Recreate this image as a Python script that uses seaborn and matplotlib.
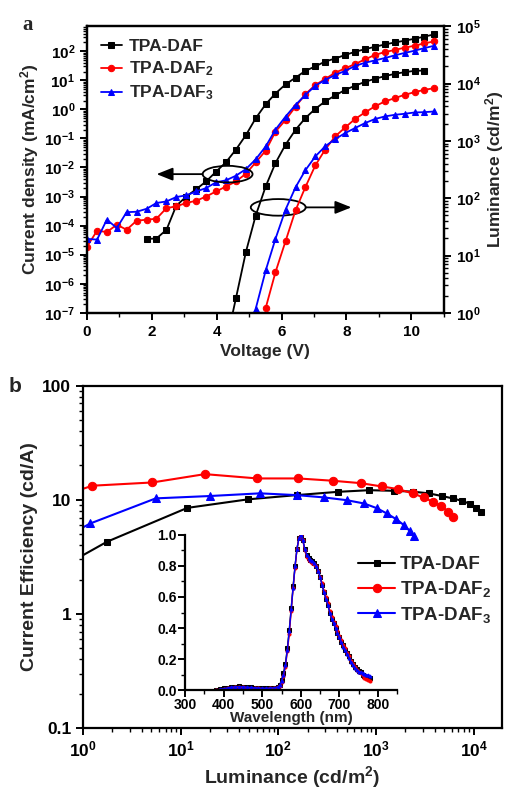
import seaborn as sns
import matplotlib
matplotlib.use('Agg')
import matplotlib.pyplot as plt
import matplotlib.ticker as mticker
from matplotlib.patches import Ellipse

# ---- panel a: J-V-L ----
# voltage grid of the measurement (V)
voltage = [0.00, 0.31, 0.61, 0.92, 1.22, 1.53, 1.84, 2.14, 2.45, 2.75, 3.06, 3.37,
           3.67, 3.98, 4.28, 4.59, 4.90, 5.20, 5.51, 5.81, 6.12, 6.43, 6.73, 7.04,
           7.34, 7.65, 7.96, 8.26, 8.57, 8.87, 9.18, 9.49, 9.79, 10.10, 10.40, 10.71]

# current density (mA/cm2)
j_daf = [3.5e-5, 3.6e-5, 7.2e-5, 4.8e-4, 1.0e-3, 1.8e-3, 3.3e-3, 7.2e-3, 1.5e-2, 4.1e-2,
         0.13, 0.49, 1.5, 3.5, 7.2, 12.3, 21, 30, 44, 56, 74, 95, 117, 141, 170, 200,
         229, 269, 316, 380]
j_daf2 = [1.9e-5, 6.7e-5, 6.0e-5, 1.08e-4, 7.2e-5, 1.48e-4, 1.6e-4, 1.73e-4, 4.0e-4, 4.6e-4,
          6.0e-4, 7.2e-4, 1.0e-3, 1.5e-3, 2.2e-3, 3.3e-3, 6.1e-3, 1.49e-2, 3.8e-2, 0.17,
          0.43, 1.24, 3.3, 6.9, 11.0, 18.2, 25.7, 36, 52, 74, 93, 110, 132, 154, 186, 218]
j_daf3 = [3.5e-5, 3.3e-5, 1.6e-4, 8.3e-5, 2.9e-4, 3.0e-4, 3.8e-4, 6.0e-4, 6.8e-4, 9.6e-4,
          1.1e-3, 1.5e-3, 1.95e-3, 3.1e-3, 3.6e-3, 5.2e-3, 8.8e-3, 1.9e-2, 5.3e-2, 0.20,
          0.56, 1.42, 3.1, 6.5, 10.2, 15.2, 21, 31, 40, 48, 58, 72, 87, 104, 128, 154]

# luminance (cd/m2)
l_daf = [0.28, 1.78, 11.6, 49.6, 161, 410, 857, 1563, 2496, 3630, 4874, 6200, 7780,
         9140, 10720, 12080, 13460, 14790, 15810, 16680, 16900]
l_daf2 = [1.22, 5.1, 17.7, 61.5, 155, 374, 701, 1197, 1717, 2399, 3133, 3985, 4870,
          5570, 6365, 7083, 7780, 8320]
l_daf3 = [1.17, 5.5, 19.5, 63, 155, 306, 536, 801, 1075, 1368, 1671, 2042, 2399, 2670,
          2853, 2970, 3133, 3175, 3260]

# ---- panel b: CE-L ----
ce_lum_daf = [0.67, 1.76, 11.7, 49, 154, 406, 858, 1514, 2387, 3465, 4735, 6095, 7590,
              9250, 10650, 11900]
ce_daf = [2.7, 4.29, 8.5, 10.1, 11.0, 11.75, 12.15, 12.0, 11.8, 11.4, 10.8, 10.3, 9.8,
          9.2, 8.5, 7.75]
ce_lum_daf2 = [0.45, 1.25, 5.14, 17.7, 61, 160, 361, 699, 1148, 1701, 2367, 3068, 3828,
               4624, 5456, 6140]
ce_daf2 = [10.0, 13.3, 14.2, 16.8, 15.4, 15.4, 14.7, 14.0, 13.1, 12.4, 11.4, 10.5, 9.6,
           8.9, 7.9, 7.1]
ce_lum_daf3 = [0.67, 1.19, 5.56, 19.9, 64.9, 154, 294, 502, 756, 1021, 1292, 1611, 1915,
               2207, 2462]
ce_daf3 = [4.78, 6.21, 10.3, 10.8, 11.4, 11.0, 10.5, 9.93, 9.29, 8.45, 7.59, 6.77, 6.04,
           5.36, 4.78]

# ---- inset: EL spectra ----
wavelength = [380, 390, 400, 410, 420, 430, 440, 450, 460, 470, 480, 490, 500, 510, 520,
              530, 540, 545, 550, 555, 560, 565, 570, 575, 580, 585, 590, 595, 600, 605,
              610, 615, 620, 625, 630, 635, 640, 645, 650, 655, 660, 665, 670, 675, 680,
              685, 690, 695, 700, 705, 710, 715, 720, 725, 730, 735, 740, 745, 750, 755,
              760, 765, 770, 775, 780]
el_daf = [0.00, 0.006, 0.011, 0.016, 0.021, 0.023, 0.024, 0.023, 0.021, 0.018, 0.016,
          0.014, 0.013, 0.013, 0.014, 0.016, 0.022, 0.034, 0.065, 0.11, 0.17, 0.27, 0.39,
          0.53, 0.67, 0.80, 0.91, 0.98, 1.00, 0.97, 0.91, 0.87, 0.85, 0.84, 0.83, 0.82,
          0.80, 0.77, 0.73, 0.68, 0.63, 0.59, 0.55, 0.50, 0.46, 0.43, 0.40, 0.37, 0.34,
          0.31, 0.29, 0.26, 0.24, 0.22, 0.19, 0.17, 0.15, 0.135, 0.125, 0.115, 0.10,
          0.09, 0.085, 0.08, 0.075]
el_daf2 = [0.00, 0.004, 0.008, 0.012, 0.016, 0.018, 0.019, 0.018, 0.016, 0.014, 0.012,
           0.011, 0.010, 0.010, 0.011, 0.013, 0.018, 0.026, 0.05, 0.09, 0.15, 0.25, 0.36,
           0.51, 0.66, 0.79, 0.91, 0.98, 1.00, 0.97, 0.90, 0.86, 0.84, 0.83, 0.82, 0.81,
           0.80, 0.77, 0.73, 0.69, 0.64, 0.60, 0.56, 0.51, 0.47, 0.44, 0.41, 0.38, 0.35,
           0.32, 0.29, 0.27, 0.24, 0.22, 0.19, 0.17, 0.15, 0.13, 0.12, 0.11, 0.095,
           0.08, 0.07, 0.065, 0.06]
el_daf3 = [0.00, 0.005, 0.010, 0.014, 0.019, 0.021, 0.022, 0.021, 0.019, 0.017, 0.015,
           0.013, 0.012, 0.012, 0.013, 0.015, 0.020, 0.030, 0.06, 0.10, 0.16, 0.26, 0.38,
           0.52, 0.66, 0.80, 0.91, 0.98, 1.00, 0.97, 0.91, 0.87, 0.85, 0.84, 0.83, 0.82,
           0.80, 0.77, 0.73, 0.68, 0.63, 0.59, 0.55, 0.50, 0.46, 0.43, 0.40, 0.37, 0.34,
           0.31, 0.28, 0.26, 0.23, 0.21, 0.18, 0.16, 0.14, 0.13, 0.12, 0.115, 0.11,
           0.105, 0.095, 0.10, 0.09]

labels = ['TPA-DAF', 'TPA-DAF$_2$', 'TPA-DAF$_3$']
colors = ['black', 'red', 'blue']
markers = ['s', 'o', '^']

sns.set_style('ticks')
plt.rcParams['font.family'] = ['Liberation Sans', 'DejaVu Sans']
plt.rcParams['font.weight'] = 'bold'
plt.rcParams['axes.labelweight'] = 'bold'
plt.rcParams['mathtext.fontset'] = 'custom'
plt.rcParams['mathtext.rm'] = 'Liberation Sans:bold'
plt.rcParams['mathtext.it'] = 'Liberation Sans:bold'
plt.rcParams['mathtext.bf'] = 'Liberation Sans:bold'
plt.rcParams['mathtext.default'] = 'rm'
plt.rcParams['axes.linewidth'] = 1.6
plt.rcParams['axes.edgecolor'] = 'black'
for a in ['xtick', 'ytick']:
    plt.rcParams[a + '.direction'] = 'out'
    plt.rcParams[a + '.major.width'] = 1.4
    plt.rcParams[a + '.minor.width'] = 1.0
    plt.rcParams[a + '.major.size'] = 5
    plt.rcParams[a + '.minor.size'] = 3
    plt.rcParams[a + '.color'] = 'black'

fig = plt.figure(figsize=(5.06, 7.96), dpi=100)

# ================= panel a =================
ax1 = fig.add_axes([0.172, 0.607, 0.705, 0.360])
ax2 = ax1.twinx()

j_sets = [(voltage[6:], j_daf), (voltage, j_daf2), (voltage, j_daf3)]
l_sets = [(voltage[14:35], l_daf), (voltage[18:], l_daf2), (voltage[17:], l_daf3)]
msz = [3.8, 4.6, 4.8]
for (vx, vy), c, m, s, lab in zip(j_sets, colors, markers, msz, labels):
    sns.lineplot(x=vx, y=vy, ax=ax1, color=c, marker=m, markersize=s, markeredgecolor=c,
                 linewidth=1.3, estimator=None, label=lab)
for (vx, vy), c, m, s in zip(l_sets, colors, markers, msz):
    sns.lineplot(x=vx, y=vy, ax=ax2, color=c, marker=m, markersize=s, markeredgecolor=c,
                 linewidth=1.3, estimator=None)

ax1.set_yscale('log')
ax2.set_yscale('log')
ax1.set_xlim(0, 11)
ax1.set_ylim(1e-7, 7.2e2)
ax2.set_ylim(1, 1e5)
ax1.xaxis.set_major_locator(mticker.MultipleLocator(2))
ax1.xaxis.set_minor_locator(mticker.MultipleLocator(1))
ax1.yaxis.set_major_locator(mticker.LogLocator(base=10, numticks=15))
ax1.yaxis.set_minor_locator(mticker.LogLocator(base=10, subs=range(2, 10), numticks=15))
ax1.yaxis.set_minor_formatter(mticker.NullFormatter())
ax2.yaxis.set_minor_formatter(mticker.NullFormatter())
ax1.tick_params(labelsize=11)
ax2.tick_params(labelsize=11)
ax1.set_xlabel('Voltage (V)', fontsize=12.5, labelpad=4)
ax1.set_ylabel('Current density (mA/cm$^2$)', fontsize=12.5, labelpad=2)
ax2.set_ylabel('Luminance (cd/m$^2$)', fontsize=12.5, labelpad=2)

ax1.legend(loc='upper left', bbox_to_anchor=(-0.01, 1.015), frameon=False, fontsize=12.5,
           handlelength=1.2, handletextpad=0.4, labelspacing=0.3, borderpad=0.5)

# ellipses + arrows
arrow = dict(arrowstyle='-|>,head_length=0.7,head_width=0.28', color='black', lw=1.3,
             mutation_scale=14, shrinkA=0, shrinkB=0)
ax1.add_patch(Ellipse((0.394, 0.484), 0.140, 0.058, transform=ax1.transAxes,
                      fill=False, edgecolor='black', linewidth=1.3, zorder=5))
ax1.annotate('', xy=(0.195, 0.484), xytext=(0.324, 0.484), xycoords='axes fraction',
             arrowprops=arrow)
ax1.add_patch(Ellipse((0.536, 0.368), 0.154, 0.058, transform=ax1.transAxes,
                      fill=False, edgecolor='black', linewidth=1.3, zorder=5))
ax1.annotate('', xy=(0.741, 0.368), xytext=(0.613, 0.368), xycoords='axes fraction',
             arrowprops=arrow)

fig.text(0.055, 0.968, 'a', fontsize=15, fontweight='bold', family='Liberation Serif',
         ha='center', va='center')

# ================= panel b =================
ax3 = fig.add_axes([0.164, 0.0854, 0.828, 0.430])
ce_sets = [(ce_lum_daf, ce_daf), (ce_lum_daf2, ce_daf2), (ce_lum_daf3, ce_daf3)]
msz_b = [5.0, 6.0, 6.2]
for (lx, cy), c, m, s, lab in zip(ce_sets, colors, markers, msz_b, labels):
    sns.lineplot(x=lx, y=cy, ax=ax3, color=c, marker=m, markersize=s, markeredgecolor=c,
                 linewidth=1.5, estimator=None, label=lab)
ax3.set_xscale('log')
ax3.set_yscale('log')
ax3.set_xlim(1, 1.95e4)
ax3.set_ylim(0.1, 100)
ax3.set_yticks([0.1, 1, 10, 100])
ax3.set_yticklabels(['0.1', '1', '10', '100'])
ax3.xaxis.set_major_locator(mticker.LogLocator(base=10, numticks=10))
ax3.xaxis.set_minor_locator(mticker.LogLocator(base=10, subs=range(2, 10), numticks=10))
ax3.xaxis.set_minor_formatter(mticker.NullFormatter())
ax3.yaxis.set_minor_formatter(mticker.NullFormatter())
ax3.tick_params(labelsize=12.5)
ax3.set_xlabel('Luminance (cd/m$^2$)', fontsize=14, labelpad=3)
ax3.set_ylabel('Current Efficiency (cd/A)', fontsize=14, labelpad=3)
ax3.legend(loc='upper left', bbox_to_anchor=(0.625, 0.54), frameon=False, fontsize=13.5,
           handlelength=2.0, handletextpad=0.25, labelspacing=0.3, borderpad=0.2)
fig.text(0.03, 0.514, 'b', fontsize=15, fontweight='bold', ha='center', va='center')

# inset
ax4 = fig.add_axes([0.366, 0.133, 0.419, 0.195])
ax4.patch.set_alpha(0)
for y, c, m in zip([el_daf, el_daf2, el_daf3], colors, markers):
    sns.lineplot(x=wavelength, y=y, ax=ax4, color=c, marker=m, markersize=2.2,
                 markeredgecolor=c, linewidth=1.0, estimator=None)
ax4.set_xlim(300, 850)
ax4.set_ylim(0, 1.0)
ax4.xaxis.set_major_locator(mticker.MultipleLocator(100))
ax4.xaxis.set_minor_locator(mticker.MultipleLocator(50))
ax4.yaxis.set_major_locator(mticker.MultipleLocator(0.2))
ax4.yaxis.set_minor_locator(mticker.MultipleLocator(0.1))
ax4.yaxis.set_major_formatter(mticker.FormatStrFormatter('%.1f'))
ax4.spines['top'].set_visible(False)
ax4.spines['right'].set_visible(False)
ax4.tick_params(labelsize=10, pad=1)
ax4.set_xlabel('Wavelength (nm)', fontsize=11, labelpad=-1)
ax4.set_ylabel('')

fig.savefig('out.png', dpi=100)
